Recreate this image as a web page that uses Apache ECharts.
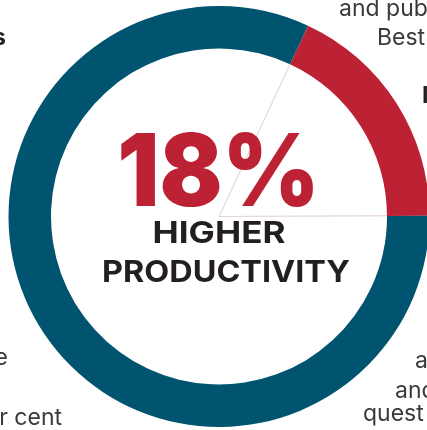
<!DOCTYPE html>
<html>
<head>
<meta charset="utf-8">
<script src="https://cdn.jsdelivr.net/npm/echarts@6/dist/echarts.min.js"></script>
<style>
html, body { margin: 0; padding: 0; background: #fff; }
#chart { width: 427px; height: 430px; }
</style>
</head>
<body>
<div id="chart"></div>
<script>
// share of respondents (per cent)
const segNames = ['Higher productivity', 'Other']
const segValues = [18, 82]
const segColors = ['#bd2134', '#01546f']
const caption = ['HIGHER', 'PRODUCTIVITY']

const textColor = '#231f20'
const sideColor = '#3a3a3a'
const cx = 219
const cy = 216.5

const chart = echarts.init(document.getElementById('chart'))

function centerText(text, x, y, font, color, sx) {
	return {
		type: 'text',
		x: x,
		y: y,
		z: 100,
		scaleX: sx,
		silent: true,
		style: { text: text, fill: color, font: font, align: 'center', verticalAlign: 'middle' }
	}
}

function sideText(text, x, y, align, bold) {
	return {
		type: 'text',
		x: x,
		y: y,
		z: 100,
		silent: true,
		style: {
			text: text,
			fill: bold ? textColor : sideColor,
			font: (bold ? '700 ' : '400 ') + '23px Inter',
			align: align,
			verticalAlign: 'middle'
		}
	}
}

const option = {
	animation: false,
	series: [
		{
			// faint slice edges inside the ring
			type: 'pie',
			radius: [0, 169],
			center: [cx, cy],
			startAngle: 65,
			silent: true,
			z: 1,
			label: { show: false },
			labelLine: { show: false },
			itemStyle: { color: '#ffffff', borderColor: '#dcc6d0', borderWidth: 0.7 },
			data: segNames.map((n, i) => ({ name: n, value: segValues[i] }))
		},
		{
			type: 'pie',
			radius: [168, 210.5],
			center: [cx, cy],
			startAngle: 65,
			silent: true,
			z: 2,
			label: { show: false },
			labelLine: { show: false },
			itemStyle: { borderWidth: 0 },
			data: segNames.map((n, i) => ({
				name: n,
				value: segValues[i],
				itemStyle: { color: segColors[i] }
			}))
		}
	],
	graphic: [
		centerText(segValues[0] + '%', 218.5, 175.5, '900 100px Inter', segColors[0], 0.93),
		centerText(caption[0], 219, 234, '700 30px Inter', textColor, 1.17),
		centerText(caption[1], 226, 273, '700 30px Inter', textColor, 1.08),
		// cut-off text of the surrounding infographic
		sideText('and publ', 339, 9, 'left', false),
		sideText('Best', 377, 38, 'left', false),
		sideText('I', 422, 96, 'left', true),
		sideText('s', 6, 38, 'right', true),
		sideText('e', 8, 358, 'right', false),
		sideText('r cent', 62, 418, 'right', false),
		sideText('a', 415, 361, 'left', false),
		sideText('and', 395, 391, 'left', false),
		sideText('quest', 363, 414, 'left', false)
	]
}

chart.setOption(option)
</script>
</body>
</html>
